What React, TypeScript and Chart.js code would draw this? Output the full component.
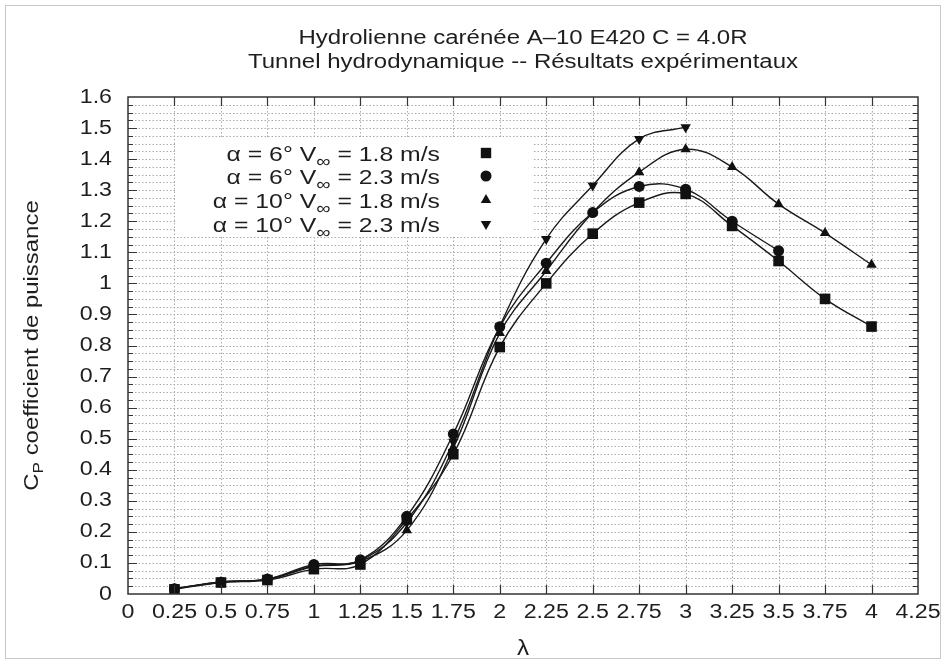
import React, { useEffect, useRef } from 'react';
import { Chart, registerables } from 'chart.js';

Chart.register(...registerables);

// ---- data ----
const lambdas = [0.25, 0.5, 0.75, 1, 1.25, 1.5, 1.75, 2, 2.25, 2.5, 2.75, 3, 3.25, 3.5, 3.75, 4];
const cpA6V18 = [0.015, 0.037, 0.045, 0.08, 0.095, 0.24, 0.45, 0.795, 1.0, 1.16, 1.26, 1.288, 1.185, 1.072, 0.95, 0.861];
const cpA6V23 = [0.017, 0.038, 0.048, 0.095, 0.11, 0.25, 0.515, 0.86, 1.065, 1.228, 1.312, 1.303, 1.2, 1.105];
const cpA10V18 = [0.017, 0.038, 0.047, 0.088, 0.105, 0.205, 0.47, 0.84, 1.04, 1.228, 1.358, 1.432, 1.375, 1.255, 1.162, 1.06];
const cpA10V23 = [0.018, 0.039, 0.048, 0.09, 0.108, 0.23, 0.49, 0.862, 1.143, 1.315, 1.465, 1.503];

const seriesAlpha = ['6', '6', '10', '10'];
const seriesSpeed = ['1.8', '2.3', '1.8', '2.3'];
const seriesValues = [cpA6V18, cpA6V23, cpA10V18, cpA10V23];
const seriesMarkers = ['rect', 'circle', 'triangle', 'triangleDown'];

const titleLines = ['Hydrolienne carénée A–10 E420 C = 4.0R', 'Tunnel hydrodynamique -- Résultats expérimentaux'];
const xTitle = 'λ';
const yTitleLetter = 'C';
const yTitleSub = 'P';
const yTitleRest = ' coefficient de puissance';

const xMin = 0, xMax = 4.25, xStep = 0.25;
const yMin = 0, yMax = 1.6, yStep = 0.1, yMinorStep = 0.025;

const FONT = '"Liberation Sans", Arial, Helvetica, sans-serif';
const INK = '#1e1e1e';
const STRETCH = 1.16;

function fmt(v: number, digits: number) {
  const f = Math.pow(10, digits);
  return String(Math.round(v * f) / f);
}

function textW(ctx: CanvasRenderingContext2D, text: string, font: string, sx: number) {
  ctx.font = font;
  return ctx.measureText(text).width * sx;
}

function drawStretched(ctx: CanvasRenderingContext2D, text: string, x: number, y: number, font: string, sx: number, align: string, baseline: CanvasTextBaseline) {
  ctx.save();
  ctx.font = font;
  ctx.textAlign = 'left';
  ctx.textBaseline = baseline;
  const w = ctx.measureText(text).width * sx;
  const left = align === 'center' ? x - w / 2 : align === 'right' ? x - w : x;
  ctx.translate(left, y);
  ctx.scale(sx, 1);
  ctx.fillText(text, 0, 0);
  ctx.restore();
  return w;
}

function markerPath(ctx: CanvasRenderingContext2D, kind: string, x: number, y: number) {
  ctx.beginPath();
  if (kind === 'rect') {
    const s = 5.2;
    ctx.rect(x - s, y - s, 2 * s, 2 * s);
  } else if (kind === 'circle') {
    ctx.arc(x, y, 5.5, 0, Math.PI * 2);
  } else if (kind === 'triangle') {
    const r = 6;
    ctx.moveTo(x, y - r);
    ctx.lineTo(x + r * 0.866, y + r * 0.5);
    ctx.lineTo(x - r * 0.866, y + r * 0.5);
    ctx.closePath();
  } else {
    const r = 6;
    ctx.moveTo(x, y + r);
    ctx.lineTo(x + r * 0.866, y - r * 0.5);
    ctx.lineTo(x - r * 0.866, y - r * 0.5);
    ctx.closePath();
  }
  ctx.fill();
}

const framePlugin = {
  id: 'framePlugin',
  beforeDraw(chart: any) {
    const { ctx, width, height } = chart;
    ctx.save();
    ctx.fillStyle = '#ffffff';
    ctx.fillRect(0, 0, width, height);
    ctx.strokeStyle = '#c8c8c8';
    ctx.lineWidth = 1;
    ctx.strokeRect(5.5, 5.5, width - 11, height - 11);
    ctx.restore();
  },
  beforeDatasetsDraw(chart: any) {
    const { ctx, chartArea: a } = chart;
    const xs = chart.scales.x;
    const ys = chart.scales.y;
    ctx.save();
    ctx.strokeStyle = '#ababab';
    ctx.lineWidth = 1;
    ctx.setLineDash([1.5, 2]);
    const nY = Math.round((yMax - yMin) / yMinorStep);
    for (let i = 1; i < nY; i++) {
      const py = Math.round(ys.getPixelForValue(yMin + i * yMinorStep)) + 0.5;
      ctx.beginPath();
      ctx.moveTo(a.left, py);
      ctx.lineTo(a.right, py);
      ctx.stroke();
    }
    const nX = Math.round((xMax - xMin) / xStep);
    for (let i = 1; i < nX; i++) {
      const px = Math.round(xs.getPixelForValue(xMin + i * xStep)) + 0.5;
      ctx.beginPath();
      ctx.moveTo(px, a.top);
      ctx.lineTo(px, a.bottom);
      ctx.stroke();
    }
    ctx.setLineDash([]);
    // legend box (white, hides grid)
    ctx.fillStyle = '#ffffff';
    ctx.fillRect(176, 139, 357, 97);
    ctx.restore();
  },
  afterDraw(chart: any) {
    const { ctx, chartArea: a } = chart;
    const xs = chart.scales.x;
    const ys = chart.scales.y;
    ctx.save();
    // plot border
    ctx.strokeStyle = '#333333';
    ctx.lineWidth = 1.5;
    ctx.strokeRect(a.left, a.top, a.right - a.left, a.bottom - a.top);
    // ticks
    ctx.lineWidth = 1.2;
    const nY = Math.round((yMax - yMin) / yMinorStep);
    for (let i = 1; i < nY; i++) {
      const py = Math.round(ys.getPixelForValue(yMin + i * yMinorStep)) + 0.5;
      const len = i % 4 === 0 ? 9 : 5;
      ctx.beginPath();
      ctx.moveTo(a.left, py);
      ctx.lineTo(a.left + len, py);
      ctx.moveTo(a.right, py);
      ctx.lineTo(a.right - len, py);
      ctx.stroke();
    }
    const nX = Math.round((xMax - xMin) / xStep);
    for (let i = 1; i < nX; i++) {
      const px = Math.round(xs.getPixelForValue(xMin + i * xStep)) + 0.5;
      ctx.beginPath();
      ctx.moveTo(px, a.bottom);
      ctx.lineTo(px, a.bottom - 9);
      ctx.moveTo(px, a.top);
      ctx.lineTo(px, a.top + 9);
      ctx.stroke();
    }

    ctx.fillStyle = INK;
    const tickF = `20px ${FONT}`;
    // x tick labels
    for (let i = 0; i <= nX; i++) {
      const v = xMin + i * xStep;
      drawStretched(ctx, fmt(v, 2), xs.getPixelForValue(v), 612, tickF, STRETCH, 'center', 'middle');
    }
    // y tick labels
    const nYM = Math.round((yMax - yMin) / yStep);
    for (let i = 0; i <= nYM; i++) {
      const v = yMin + i * yStep;
      drawStretched(ctx, fmt(v, 1), 112, ys.getPixelForValue(v), tickF, STRETCH, 'right', 'middle');
    }

    // title
    const cx = (a.left + a.right) / 2;
    const titleF = `20px ${FONT}`;
    drawStretched(ctx, titleLines[0], cx, 38, titleF, 1.2, 'center', 'middle');
    drawStretched(ctx, titleLines[1], cx, 62, titleF, 1.2, 'center', 'middle');

    // x title
    drawStretched(ctx, xTitle, cx, 649, `22px ${FONT}`, 1.1, 'center', 'middle');

    // y title (rotated, with subscript)
    ctx.save();
    ctx.translate(30, (a.top + a.bottom) / 2);
    ctx.rotate(-Math.PI / 2);
    const bigF = `21px ${FONT}`;
    const subF = `15px ${FONT}`;
    const ys1 = 1.14;
    const wC = textW(ctx, yTitleLetter, bigF, ys1);
    const wR = textW(ctx, yTitleRest, bigF, ys1);
    const wP = textW(ctx, yTitleSub, subF, ys1);
    let tx = -(wC + wP + wR) / 2;
    const base = 8;
    drawStretched(ctx, yTitleLetter, tx, base, bigF, ys1, 'left', 'alphabetic');
    tx += wC;
    drawStretched(ctx, yTitleSub, tx, base + 5, subF, ys1, 'left', 'alphabetic');
    tx += wP;
    drawStretched(ctx, yTitleRest, tx, base, bigF, ys1, 'left', 'alphabetic');
    ctx.restore();

    // legend
    const rowY = [153, 176, 200, 224];
    const textRight = 440;
    const markX = 486;
    const mainF = `21px ${FONT}`;
    const infF = `17px ${FONT}`;
    const ls = 1.18;
    for (let i = 0; i < seriesAlpha.length; i++) {
      const y = rowY[i];
      const p1 = `α = ${seriesAlpha[i]}° V`;
      const p2 = '∞';
      const p3 = ` = ${seriesSpeed[i]} m/s`;
      const w1 = textW(ctx, p1, mainF, ls);
      const w2 = textW(ctx, p2, infF, ls);
      const w3 = textW(ctx, p3, mainF, ls);
      let lx = textRight - (w1 + w2 + w3);
      const bl = y + 8;
      ctx.fillStyle = INK;
      drawStretched(ctx, p1, lx, bl, mainF, ls, 'left', 'alphabetic');
      lx += w1;
      drawStretched(ctx, p2, lx, bl + 6, infF, ls, 'left', 'alphabetic');
      lx += w2;
      drawStretched(ctx, p3, lx, bl, mainF, ls, 'left', 'alphabetic');
      ctx.fillStyle = '#111111';
      markerPath(ctx, seriesMarkers[i], markX, y);
    }
    ctx.restore();
  },
};

function pointStyleOf(kind: string) {
  return kind === 'triangleDown' ? 'triangle' : kind;
}

export default function App() {
  const ref = useRef<HTMLCanvasElement | null>(null);
  useEffect(() => {
    if (!ref.current) return;
    const datasets = seriesValues.map((vals, i) => ({
      label: `α = ${seriesAlpha[i]}° V∞ = ${seriesSpeed[i]} m/s`,
      data: vals.map((v, j) => ({ x: lambdas[j], y: v })),
      borderColor: '#1a1a1a',
      backgroundColor: '#111111',
      borderWidth: 1.4,
      pointStyle: pointStyleOf(seriesMarkers[i]) as any,
      pointRotation: seriesMarkers[i] === 'triangleDown' ? 180 : 0,
      pointRadius: seriesMarkers[i] === 'rect' ? 7.5 : seriesMarkers[i] === 'circle' ? 5.5 : 6,
      pointBorderWidth: 0,
      tension: 0.4,
      fill: false,
    }));
    const chart = new Chart(ref.current, {
      type: 'line',
      data: { datasets },
      options: {
        animation: false,
        responsive: false,
        devicePixelRatio: 1,
        layout: { padding: { top: 97, right: 28, left: 0, bottom: 0 } },
        plugins: { legend: { display: false }, title: { display: false }, tooltip: { enabled: false } },
        scales: {
          x: {
            type: 'linear',
            min: xMin,
            max: xMax,
            grid: { display: false, drawTicks: false },
            border: { display: false },
            ticks: { display: false, stepSize: xStep },
            afterFit: (s: any) => { s.height = 70; },
          },
          y: {
            type: 'linear',
            min: yMin,
            max: yMax,
            grid: { display: false, drawTicks: false },
            border: { display: false },
            ticks: { display: false, stepSize: yStep },
            afterFit: (s: any) => { s.width = 128; },
          },
        },
      },
      plugins: [framePlugin],
    });
    return () => chart.destroy();
  }, []);
  return (
    <div style={{ position: 'fixed', left: 0, top: 0, width: 946, height: 664, background: '#fff' }}>
      <canvas ref={ref} width={946} height={664} style={{ width: 946, height: 664, display: 'block' }} />
    </div>
  );
}
